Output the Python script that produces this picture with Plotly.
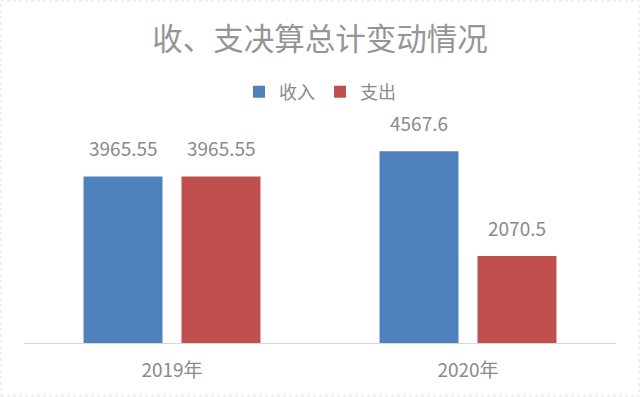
import plotly.graph_objects as go

categories = ["2019年", "2020年"]
income = [3965.55, 4567.6]
expense = [3965.55, 2070.5]
income_labels = ["3965.55", "4567.6"]
expense_labels = ["3965.55", "2070.5"]

FONT = "Noto Sans CJK SC"
GRAY = "#8a8a8a"

fig = go.Figure()
fig.add_trace(go.Bar(name="收入", x=categories, y=income, marker=dict(color="#4f81bd", line=dict(width=0))))
fig.add_trace(go.Bar(name="支出", x=categories, y=expense, marker=dict(color="#c0504d", line=dict(width=0))))

annotations = []
for cat, v, lab in zip(categories, income, income_labels):
    annotations.append(dict(x=cat, y=v, text=lab, showarrow=False, xshift=-49, yshift=13,
                            yanchor="bottom", font=dict(size=19, color=GRAY, family=FONT)))
for cat, v, lab in zip(categories, expense, expense_labels):
    annotations.append(dict(x=cat, y=v, text=lab, showarrow=False, xshift=49, yshift=13,
                            yanchor="bottom", font=dict(size=19, color=GRAY, family=FONT)))

W, H = 640, 397
ml, mr, mt, mb = 24, 24, 133, 54
pw, ph = W - ml - mr, H - mt - mb

fig.update_layout(
    width=W, height=H,
    margin=dict(l=ml, r=mr, t=mt, b=mb),
    paper_bgcolor="white", plot_bgcolor="white",
    font=dict(family=FONT, color=GRAY, size=18),
    title=dict(text="收、支决算总计变动情况", x=0.5, xanchor="center", y=1 - 39 / H, yanchor="middle",
               font=dict(size=30.5, color="#959595", family=FONT)),
    legend=dict(orientation="h", x=0.5, xanchor="center", y=1 - 92 / H, yref="container", yanchor="middle",
                font=dict(size=18, color=GRAY, family=FONT), itemwidth=30, traceorder="normal"),
    bargap=0.338, bargroupgap=0.194,
    xaxis=dict(showline=True, linecolor="#d9d9d9", linewidth=1, ticks="", tickfont=dict(size=19, color=GRAY),
               ticklabelstandoff=10),
    yaxis=dict(range=[0, 5000], visible=False, showgrid=False),
    annotations=annotations,
    shapes=[dict(type="rect", xref="paper", yref="paper",
                 x0=(1 - ml) / pw, x1=(W - ml - 1) / pw,
                 y0=-(mb - 1) / ph, y1=(H - mb - 1) / ph,
                 line=dict(color="#e0e0e0", width=1, dash="dot"))],
)
fig.write_html("out.html", config={"displayModeBar": False},
               post_script="document.body.style.margin='0';")
